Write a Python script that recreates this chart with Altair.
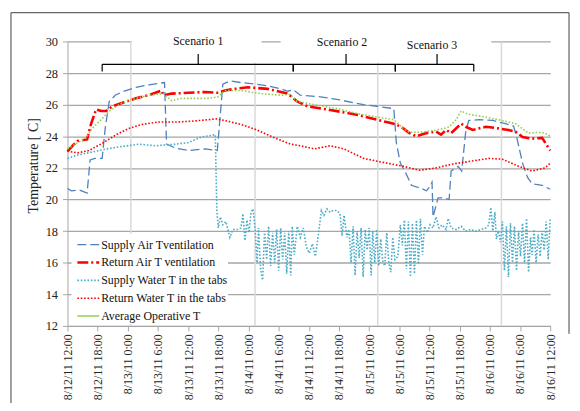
import altair as alt
import pandas as pd

START = pd.Timestamp("2011-08-12 12:00")
FONT = "Liberation Serif"

# ---------------- data (hours since 8/12/11 12:00, temperature) ----------------
supply_air_h = [0, 0.8, 2.4, 3.9, 4.5, 5.5, 6.9, 7.5, 8.3, 9.5, 10.8, 13.6, 16.2, 18.1, 19.3, 19.7,
                21.5, 24.0, 27.4, 29.8, 30.9, 32.3, 34.5, 37.3, 39.8, 42.4, 43.8, 44.9, 46.3, 50.3,
                54.2, 58.9, 61.5, 64.9, 65.4, 66.2, 67.4, 68.4, 70.4, 71.4, 71.9, 72.5, 72.7, 73.7,
                74.9, 75.9, 76.3, 77.7, 78.4, 79.2, 79.8, 81.8, 84.6, 87.1, 88.7, 89.3, 90.5, 91.5,
                92.4, 94.4, 96.0]
supply_air_v = [20.7, 20.55, 20.6, 20.4, 22.5, 22.6, 22.6, 24.5, 26.2, 26.6, 26.8, 27.1, 27.25, 27.35,
                27.4, 23.5, 23.25, 23.1, 23.2, 23.1, 27.3, 27.5, 27.4, 27.3, 27.2, 27.0, 26.85, 26.95,
                26.6, 26.5, 26.3, 26.0, 25.9, 25.75, 23.6, 22.3, 21.6, 20.9, 20.7, 20.55, 20.75, 21.1,
                18.9, 20.1, 20.1, 20.0, 21.8, 22.1, 21.8, 24.3, 25.0, 25.05, 25.0, 24.8, 24.65, 24.0,
                22.3, 21.4, 21.0, 20.9, 20.65]

return_air_h = [0, 1.0, 2.0, 3.9, 4.7, 5.7, 6.7, 7.7, 8.9, 10.8, 13.6, 16.2, 18.7, 19.1, 20.7, 24.0,
                27.4, 30.0, 31.3, 33.3, 35.9, 39.8, 43.8, 45.7, 47.7, 51.6, 57.0, 61.5, 64.1, 65.4,
                66.8, 68.0, 69.4, 71.4, 73.3, 74.3, 75.3, 76.3, 78.3, 79.2, 80.6, 83.2, 85.7, 87.7,
                89.1, 90.5, 92.4, 94.4, 95.0, 96.0]
return_air_v = [23.05, 23.4, 23.7, 23.8, 24.8, 25.7, 25.6, 25.6, 25.9, 26.1, 26.4, 26.6, 26.9, 26.6,
                26.7, 26.75, 26.8, 26.75, 26.9, 27.0, 27.1, 27.0, 26.7, 26.2, 25.9, 25.7, 25.4, 25.05,
                24.85, 24.75, 24.5, 24.2, 24.0, 24.2, 24.3, 24.1, 24.4, 24.2, 24.8, 24.6, 24.4, 24.6,
                24.5, 24.4, 24.3, 23.95, 23.85, 23.9, 23.6, 23.1]

supply_water_h = [0, 1.8, 4.9, 7.7, 10.8, 14.2, 17.5, 21.5, 24.0, 26.6, 29.4,
                  29.7, 30.0, 30.4, 30.9, 31.5, 32.3, 32.9, 33.9, 34.5, 34.9, 35.3, 35.7, 36.1, 36.5,
                  36.9, 37.3, 37.7, 38.0, 38.4, 38.8, 39.2, 39.6, 40.0, 40.4, 40.8, 41.2, 41.6, 42.0,
                  42.4, 42.8, 43.2, 43.6, 44.0, 44.4, 44.7, 45.1, 45.7, 46.3, 46.9, 47.5, 48.1, 48.7,
                  49.3, 49.9, 50.5, 51.0, 51.6, 52.2, 52.8, 53.6, 54.2, 54.6, 55.0, 55.6, 56.0, 56.4,
                  56.8, 57.2, 57.6, 58.0, 58.4, 58.8, 59.2, 59.6, 60.0, 60.4, 60.7, 61.1, 61.5, 61.9,
                  62.3, 62.7, 63.1, 63.5, 63.9, 64.3, 64.7, 65.1, 65.7, 66.2, 66.6, 67.0, 67.4, 67.8,
                  68.2, 68.6, 69.0, 69.4, 69.8, 70.2, 70.6, 71.0, 71.6, 72.1, 72.7, 73.3, 73.9, 74.5,
                  75.3, 75.7, 76.3, 77.3, 78.3, 79.2, 80.2, 81.2, 82.2, 83.2, 83.8, 84.2, 84.6, 85.0,
                  85.3, 85.7, 86.1, 86.5, 86.9, 87.3, 87.7, 88.1, 88.5, 88.9, 89.3, 89.7, 90.1, 90.5,
                  90.9, 91.3, 91.7, 92.1, 92.4, 92.8, 93.2, 93.6, 94.0, 94.4, 94.8, 95.2, 95.6, 96.0]
supply_water_v = [22.6, 22.8, 23.0, 23.2, 23.35, 23.5, 23.4, 23.5, 23.6, 23.95, 24.1,
                  19.3, 18.2, 18.9, 18.4, 18.6, 17.6, 18.1, 18.1, 18.2, 19.1, 17.4, 18.7, 17.9, 19.2,
                  19.4, 18.2, 16.0, 18.2, 15.6, 14.9, 18.0, 16.2, 18.3, 15.8, 17.9, 16.0, 18.1, 15.5,
                  18.2, 16.2, 17.9, 15.3, 18.0, 15.2, 18.3, 16.5, 18.3, 17.6, 18.2, 17.0, 16.6, 17.2,
                  16.4, 17.8, 19.3, 19.0, 19.4, 19.2, 19.3, 19.3, 19.1, 17.7, 19.0, 17.6, 18.1, 16.0,
                  18.3, 15.2, 18.0, 16.3, 18.2, 15.1, 18.1, 16.8, 18.2, 15.2, 18.0, 16.0, 18.1, 15.8,
                  17.5, 16.1, 15.8, 17.9, 16.0, 15.4, 17.6, 16.2, 16.4, 18.4, 17.1, 18.7, 15.6, 18.6,
                  15.1, 18.5, 15.3, 18.7, 15.9, 18.8, 16.5, 18.3, 17.9, 18.4, 18.2, 18.9, 18.2, 18.4,
                  18.1, 18.8, 18.2, 18.1, 18.3, 18.0, 18.1, 18.0, 18.1, 18.2, 18.4, 19.5, 18.0, 19.2,
                  17.5, 18.0, 17.3, 18.6, 15.5, 18.3, 15.1, 18.5, 16.0, 18.3, 15.5, 18.0, 16.4, 18.5,
                  16.0, 18.8, 15.4, 17.6, 16.5, 18.1, 16.0, 17.8, 16.4, 18.0, 16.8, 18.6, 16.2, 18.8]

return_water_h = [0, 2.0, 4.3, 6.9, 9.7, 12.2, 14.8, 18.1, 21.5, 24.6, 28.0, 29.6, 31.9, 34.5, 37.3,
                  41.2, 44.4, 46.3, 49.1, 52.2, 55.0, 58.9, 63.5, 66.8, 70.0, 73.3, 76.7, 79.8, 83.8,
                  86.5, 89.7, 92.4, 95.0, 96.0]
return_water_v = [23.05, 22.95, 23.1, 23.55, 24.1, 24.5, 24.75, 24.9, 24.9, 24.95, 25.05, 25.1, 24.95,
                  24.75, 24.45, 23.9, 23.5, 23.4, 23.2, 23.4, 23.2, 22.6, 22.3, 22.1, 21.85, 22.0,
                  22.25, 22.4, 22.6, 22.55, 22.1, 21.8, 22.0, 22.3]

operative_h = [0, 1.8, 3.7, 4.9, 6.7, 8.3, 10.8, 13.6, 16.2, 19.1, 20.7, 22.7, 25.4, 28.0, 30.0, 31.3,
               34.5, 38.4, 42.4, 44.2, 45.7, 49.1, 53.6, 58.1, 64.9, 66.8, 68.0, 70.0, 72.7, 74.9,
               75.9, 77.3, 78.3, 79.6, 82.6, 85.7, 89.1, 91.7, 93.6, 95.0, 96.0]
operative_v = [23.2, 23.55, 23.9, 24.5, 25.05, 25.6, 26.1, 26.4, 26.6, 26.7, 26.25, 26.4, 26.4, 26.4,
               26.5, 26.9, 26.9, 26.7, 26.6, 26.65, 26.2, 26.0, 25.75, 25.4, 25.05, 24.5, 24.25,
               24.25, 24.35, 24.5, 24.6, 25.05, 25.6, 25.4, 25.25, 25.05, 24.8, 24.2, 24.25, 24.2,
               24.0]

series_names = ["Supply Air Tventilation", "Return Air T ventilation", "Supply Water T in the tabs",
                "Return Water T in the tabs", "Average Operative T"]
series_hours = [supply_air_h, return_air_h, supply_water_h, return_water_h, operative_h]
series_vals = [supply_air_v, return_air_v, supply_water_v, return_water_v, operative_v]

# scenarios
scen_labels = ["Scenario 1", "Scenario 2", "Scenario 3"]
scen_start = [6.9, 44.9, 65.2]
scen_end = [44.9, 65.2, 80.8]
scen_mid = [26.0, 55.4, 73.5]
scen_text_h = [26.0, 54.6, 72.5]
scen_text_v = [30.0, 29.95, 29.75]

vline_hours = [12.6, 37.3, 61.7, 86.3]
tick_hours = list(range(0, 97, 6))
y_ticks = list(range(12, 31, 2))

# ---------------- styles ----------------
colors = ["#4F81BD", "#FF0000", "#4BACC6", "#FF0000", "#92D050"]
dashes = [[9, 4], [11, 3, 2, 3], [1.6, 1.8], [1.6, 1.8], [1.6, 1.8]]
legend_dashes = [[9, 4], [11, 3, 2, 3], [1.6, 1.8], [1.6, 1.8], [1, 0]]
widths = [1.3, 2.6, 1.6, 1.6, 1.6]


def iso(hours):
    return [(START + pd.Timedelta(hours=h)).strftime("%Y-%m-%dT%H:%M:%SZ") for h in hours]


def ms(h):
    return int((START + pd.Timedelta(hours=h)).timestamp() * 1000)


xscale = alt.Scale(type="utc", domain=[ms(0), ms(96)])
yscale = alt.Scale(domain=[12, 30], nice=False, zero=False)

x_axis = alt.Axis(values=[ms(h) for h in tick_hours],
                  labelExpr="utcFormat(datum.value, '%-m/%-d/%y %-H:%M')",
                  labelAngle=270, labelFont=FONT, labelFontSize=12, labelColor="#222222",
                  labelPadding=3, tickSize=5, tickColor="#A6A6A6", domainColor="#A6A6A6",
                  grid=False, title=None, labelOverlap=False, labelBound=False, labelFlush=False)
y_axis = alt.Axis(values=y_ticks, labelFont=FONT, labelFontSize=12.5, labelColor="#222222",
                  labelPadding=5, tickSize=5, tickColor="#A6A6A6", domainColor="#A6A6A6",
                  grid=True, gridColor="#A6A6A6", gridWidth=1.3, title="Temperature [ C]",
                  titleFont=FONT, titleFontSize=14, titleFontWeight="normal", titleColor="#222222",
                  titleX=-34, titleY=125, titleAlign="center", titleBaseline="middle", titleAngle=270)


def X(field="t:T"):
    return alt.X(field, scale=xscale, axis=x_axis)


def Y(field="v:Q"):
    return alt.Y(field, scale=yscale, axis=y_axis)


layers = []

# vertical light lines
vdf = pd.DataFrame({"t": iso(vline_hours)})
layers.append(alt.Chart(vdf).mark_rule(color="#D9D9D9", strokeWidth=1.5).encode(
    x=X(), y=alt.value(0), y2=alt.value(287)))

# white boxes behind scenario labels (hide the 30 gridline)
box_df = pd.DataFrame({"t": iso([12.8, 42.4]), "t2": iso([38.6, 84.3]), "v": [30.4, 30.4],
                       "v2": [28.65, 28.65]})
layers.append(alt.Chart(box_df).mark_rect(color="white").encode(
    x=X(), x2="t2:T", y=Y(), y2="v2:Q"))

# braces
hor = pd.DataFrame({"t": iso(scen_start), "t2": iso(scen_end), "v": [28.55] * 3})
layers.append(alt.Chart(hor).mark_rule(color="black", strokeWidth=1.2).encode(
    x=X(), x2="t2:T", y=Y()))
ends = pd.DataFrame({"t": iso(scen_start + scen_end), "v": [28.55] * 6, "v2": [28.1] * 6})
layers.append(alt.Chart(ends).mark_rule(color="black", strokeWidth=1.2).encode(
    x=X(), y=Y(), y2="v2:Q"))
mids = pd.DataFrame({"t": iso(scen_mid), "v": [28.55] * 3, "v2": [29.2] * 3})
layers.append(alt.Chart(mids).mark_rule(color="black", strokeWidth=1.2).encode(
    x=X(), y=Y(), y2="v2:Q"))
stext = pd.DataFrame({"t": iso(scen_text_h), "v": scen_text_v, "label": scen_labels})
layers.append(alt.Chart(stext).mark_text(font=FONT, fontSize=12, color="#111111", align="center",
                                         baseline="middle").encode(
    x=X(), y=Y(), text="label:N"))

# legend background
one = pd.DataFrame({"a": [0]})
layers.append(alt.Chart(one).mark_rect(color="white").encode(
    x=alt.value(4), x2=alt.value(162), y=alt.value(194), y2=alt.value(285)))

# series lines
for name, hs, vs, c, d, w in zip(series_names, series_hours, series_vals, colors, dashes, widths):
    df = pd.DataFrame({"t": iso(hs), "v": vs})
    layers.append(alt.Chart(df).mark_line(color=c, strokeDash=d, strokeWidth=w).encode(
        x=X(), y=Y()))

# legend entries
for i, (name, c, d, w) in enumerate(zip(series_names, colors, legend_dashes, widths)):
    ldf = pd.DataFrame({"label": [name]})
    yy = 205 + 18 * i
    layers.append(alt.Chart(ldf).mark_rule(color=c, strokeDash=d, strokeWidth=w).encode(
        x=alt.value(10), x2=alt.value(32), y=alt.value(yy)))
    layers.append(alt.Chart(ldf).mark_text(font=FONT, fontSize=12, color="#111111", align="left",
                                           baseline="middle").encode(
        x=alt.value(34), y=alt.value(yy), text="label:N"))

# outer frame
layers.append(alt.Chart(one).mark_rule(color="#404040", strokeWidth=1).encode(
    x=alt.value(-57), x2=alt.value(506), y=alt.value(-29)))
layers.append(alt.Chart(one).mark_rule(color="#404040", strokeWidth=1).encode(
    x=alt.value(-57), y=alt.value(-29), y2=alt.value(372)))
layers.append(alt.Chart(one).mark_rule(color="#404040", strokeWidth=1).encode(
    x=alt.value(506), y=alt.value(-29), y2=alt.value(295)))

chart = alt.layer(*layers).properties(
    width=487, height=287,
    autosize=alt.AutoSizeParams(type="none"),
    padding={"left": 60, "top": 32, "right": 22, "bottom": 76},
    background="white",
).configure_view(stroke=None)

chart.save("out.html", embed_options={"renderer": "svg", "actions": False})
